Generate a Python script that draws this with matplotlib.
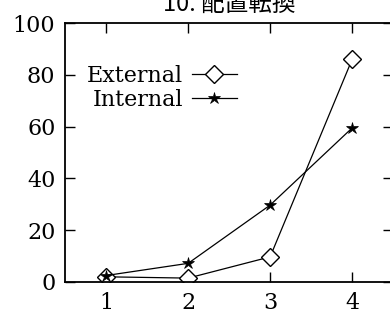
import matplotlib
matplotlib.use("Agg")
import matplotlib.pyplot as plt

# transfer ratio per stage
stages = [1, 2, 3, 4]
external = [2.0, 1.5, 9.7, 86.0]
internal = [2.5, 7.2, 29.7, 59.5]
title = "10. 配置転換"

plt.rcParams['font.family'] = ['DejaVu Serif']

fig = plt.figure(figsize=(3.9, 3.26), dpi=100)
ax = fig.add_axes([0.167, 0.135, 0.841, 0.794])

ax.plot(stages, external, color='black', lw=0.9, marker='D', markersize=9,
        markerfacecolor='white', markeredgecolor='black', markeredgewidth=1.0,
        label='External')
ax.plot(stages, internal, color='black', lw=0.9, marker='*', markersize=9,
        markerfacecolor='black', markeredgecolor='black', markeredgewidth=0.5,
        label='Internal')

ax.set_xlim(0.5, 4.5)
ax.set_ylim(0, 100)
ax.set_xticks(stages)
ax.set_yticks([0, 20, 40, 60, 80, 100])
ax.tick_params(direction='in', length=7, width=1, top=True, right=True,
               labelsize=16, pad=7)
for s in ax.spines.values():
    s.set_linewidth(1.3)

ax.set_title(title, family=['Noto Sans CJK JP'], fontsize=17, pad=8)

ax.legend(loc='upper left', bbox_to_anchor=(0.02, 0.9), frameon=False,
          markerfirst=False, fontsize=16, handlelength=2.0, handletextpad=0.4,
          labelspacing=0.1, borderaxespad=0.3, alignment='right')

fig.savefig('out.png', dpi=100)
